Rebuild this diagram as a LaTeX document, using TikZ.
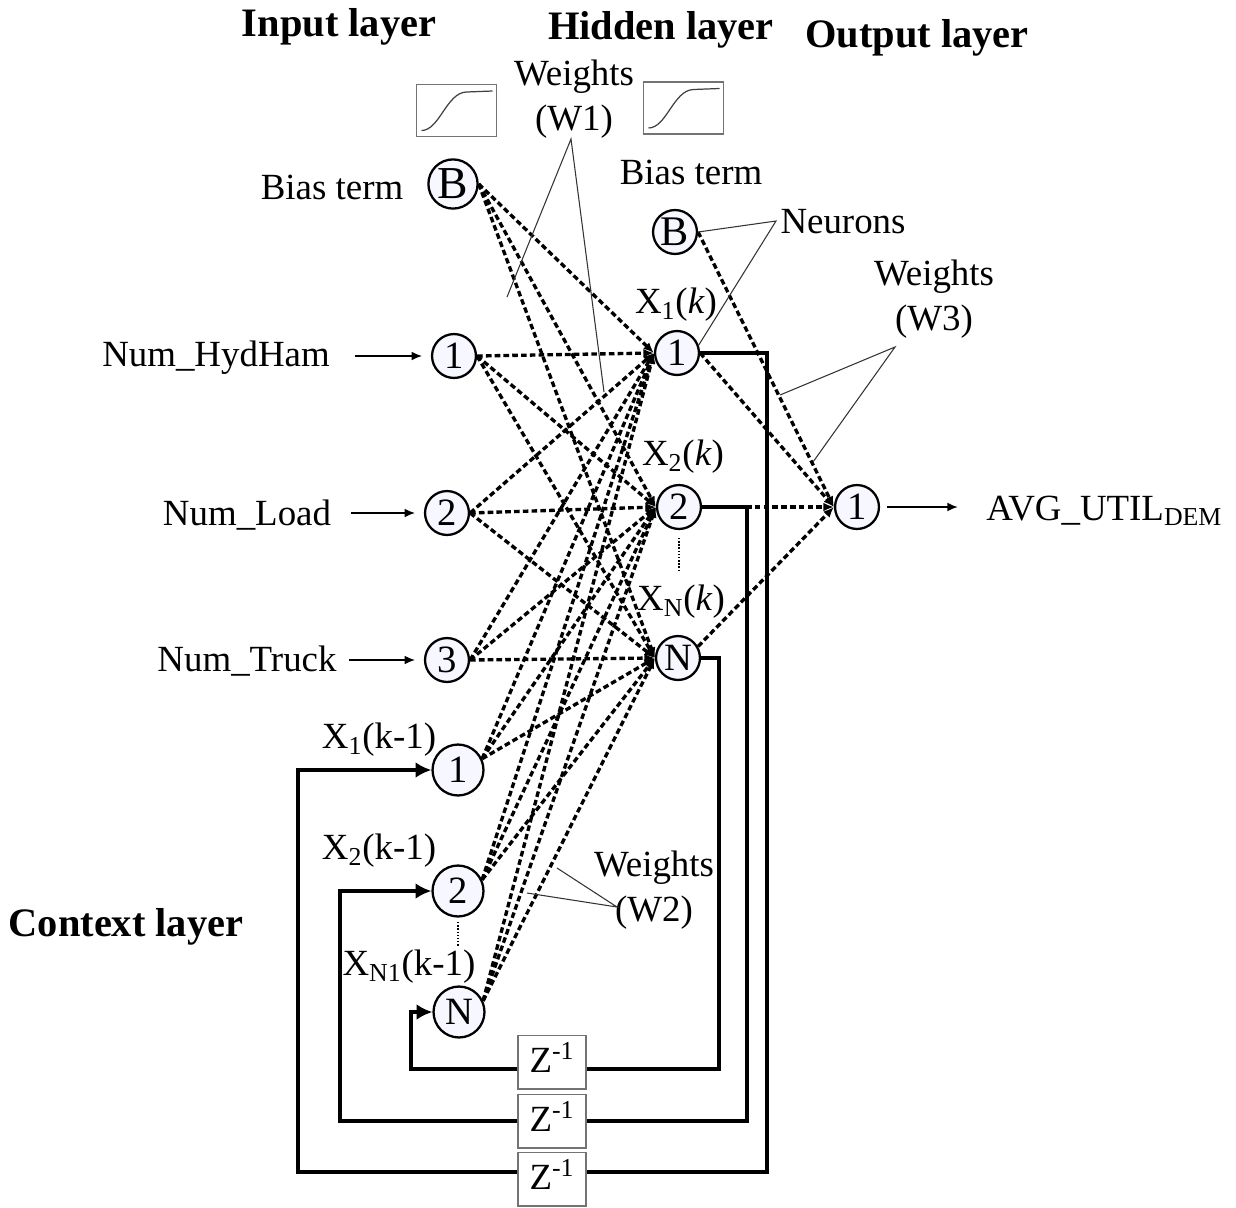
\documentclass[tikz,border=0pt]{standalone}
\usepackage{fontspec}
\usetikzlibrary{arrows.meta}
\setmainfont{Liberation Serif}
\tikzset{elman/.style={x=0.02cm,y=-0.02cm,font=\fontsize{21}{25.5}\selectfont}}
\tikzset{neuron/.style={circle,draw,line width=1.3pt,fill=blue!3,inner sep=0pt,minimum size=25pt,font=\fontsize{22}{24}\selectfont},
         bigneuron/.style={neuron,minimum size=29pt},
         lab/.style={inner sep=0pt,align=center},
         head/.style={inner sep=0pt,font=\fontsize{23}{26}\selectfont\bfseries},
         zbox/.style={draw=black!55,line width=0.8pt,fill=white,minimum width=38.5pt,minimum height=30.5pt,inner sep=0pt,text depth=5pt},
         sigbox/.style={draw=black!55,line width=0.8pt,minimum width=45.5pt,minimum height=29.5pt,inner sep=0pt},
         wlink/.style={-{Latex[length=6pt,width=5pt]},line width=1.9pt,dash pattern=on 3.2pt off 1.8pt},
         back/.style={-{Latex[length=9pt,width=9pt]},line width=1.9pt},
         inlink/.style={-{Latex[length=6pt,width=5pt]},line width=0.9pt},
         note/.style={black!80,line width=0.6pt}}

\begin{document}
\begin{tikzpicture}[elman]
    \useasboundingbox (0,0) rectangle (1236,1207);
    % layers
    \node[head] (hinput) at (339,27) {Input layer};
    \node[head] (hhidden) at (661,30) {Hidden layer};
    \node[head] (houtput) at (917,38) {Output layer};
    \node[head] (hcontext) at (126,927) {Context layer};
    % neurons
    \node[neuron,minimum size=28pt,font=\fontsize{26}{28}\selectfont] (B1) at (453,184) {B};
    \node[neuron] (in1) at (454,356) {1};
    \node[neuron] (in2) at (447,513) {2};
    \node[neuron] (in3) at (447,660) {3};
    \node[bigneuron] (c1) at (458,770) {1};
    \node[bigneuron] (c2) at (458,891) {2};
    \node[bigneuron] (cN) at (459,1012) {N};
    \node[neuron,font=\fontsize{24}{26}\selectfont] (hB) at (675,232) {B};
    \node[neuron] (h1) at (677,353) {1};
    \node[neuron] (h2) at (679,507) {2};
    \node[neuron] (hN) at (678,658) {N};
    \node[neuron] (o1) at (857,507) {1};
    % delay and sigmoid boxes
    \node[zbox] (z1) at (552,1062) {Z\textsuperscript{-1}};
    \node[zbox] (z2) at (552,1121) {Z\textsuperscript{-1}};
    \node[zbox] (z3) at (552,1179) {Z\textsuperscript{-1}};
    \node[sigbox] (sig1) at (456.5,110.5) {};
    \node[sigbox] (sig2) at (683.5,108) {};
    \foreach \s in {sig1,sig2}
      \draw[black!75,line width=0.7pt,shift={(\s.center)}] (-35,20) .. controls (-17,20) and (-10,-18) .. (10,-18.5) -- (36,-19.5);
    % labels
    \node[lab] (lhyd) at (216,358) {Num\_HydHam};
    \node[lab] (lload) at (247,515) {Num\_Load};
    \node[lab] (ltruck) at (247,661) {Num\_Truck};
    \node[lab,anchor=west] (lout) at (986,511) {AVG\_UTIL\textsubscript{DEM}};
    \node[lab] (lbias) at (332,187) {Bias term};
    \node[lab] (rbias) at (691,172) {Bias term};
    \node[lab] (lneur) at (843,222) {Neurons};
    \node[lab] (lw1) at (574,99) {Weights\\(W1)};
    \node[lab] (lw2) at (654,890) {Weights\\(W2)};
    \node[lab] (lw3) at (934,299) {Weights\\(W3)};
    \node[lab] (x1k) at (676,305) {X\textsubscript{1}(\textit{k})};
    \node[lab] (x2k) at (683,457) {X\textsubscript{2}(\textit{k})};
    \node[lab] (xNk) at (681,602) {X\textsubscript{N}(\textit{k})};
    \node[lab] (x1p) at (379,740) {X\textsubscript{1}(k-1)};
    \node[lab] (x2p) at (379,851) {X\textsubscript{2}(k-1)};
    \node[lab] (xNp) at (409,967) {X\textsubscript{N1}(k-1)};
    % weights
    \foreach \a in {B1.east,in1.east,in2.east,in3.east,c1.25,c2.25,cN.25}
      \foreach \b in {h1,h2,hN}
        \draw[wlink] (\a) -- (\b.west);
    \foreach \a in {hB.east,h1.east,h2.east,hN.30}
      \draw[wlink] (\a) -- (o1.west);
    % inputs and output
    \draw[inlink,shorten <=14pt,shorten >=5pt] (lhyd.east |- in1) -- (in1);
    \draw[inlink,shorten <=11pt,shorten >=5pt] (lload.east |- in2) -- (in2);
    \draw[inlink,shorten <=7pt,shorten >=5pt] (ltruck.east |- in3) -- (in3);
    \draw[inlink,shorten <=4pt,shorten >=16pt] (o1.east) -- (lout.west |- o1);
    % feedback through the delays
    \coordinate (t1) at (719,1069);
    \coordinate (t2) at (747,1121);
    \coordinate (t3) at (767,1172);
    \coordinate (s1) at (411,1069);
    \coordinate (s2) at (340,1121);
    \coordinate (s3) at (298,1172);
    \draw[line width=1.9pt] (hN.east) -| (t1) -- (z1.east |- t1);
    \draw[line width=1.9pt] (h2.east) -| (t2) -- (z2.east |- t2);
    \draw[line width=1.9pt] (h1.east) -| (t3) -- (z3.east |- t3);
    \draw[back] (z1.west |- s1) -- (s1) |- (cN.west);
    \draw[back] (z2.west |- s2) -- (s2) |- (c2.west);
    \draw[back] (z3.west |- s3) -- (s3) |- (c1.west);
    % dots
    \draw[densely dotted,line width=0.8pt] (h2) ++(0,31) -- ++(0,33);
    \draw[densely dotted,line width=0.8pt] (c2) ++(0,31) -- ++(0,25);
    % thin pointers
    \coordinate (w1a) at (571,139);
    \draw[note] (507,297) -- (w1a) -- (604,392);
    \coordinate (na) at (776,221);
    \draw[note] (hB.east) -- (na) -- (h1.20);
    \coordinate (w3a) at (895,347);
    \draw[note] (780,395) -- (w3a) -- (813,462);
    \coordinate (w2a) at (617,907);
    \draw[note] (557,868) -- (w2a) -- (527,893);
\end{tikzpicture}
\end{document}
